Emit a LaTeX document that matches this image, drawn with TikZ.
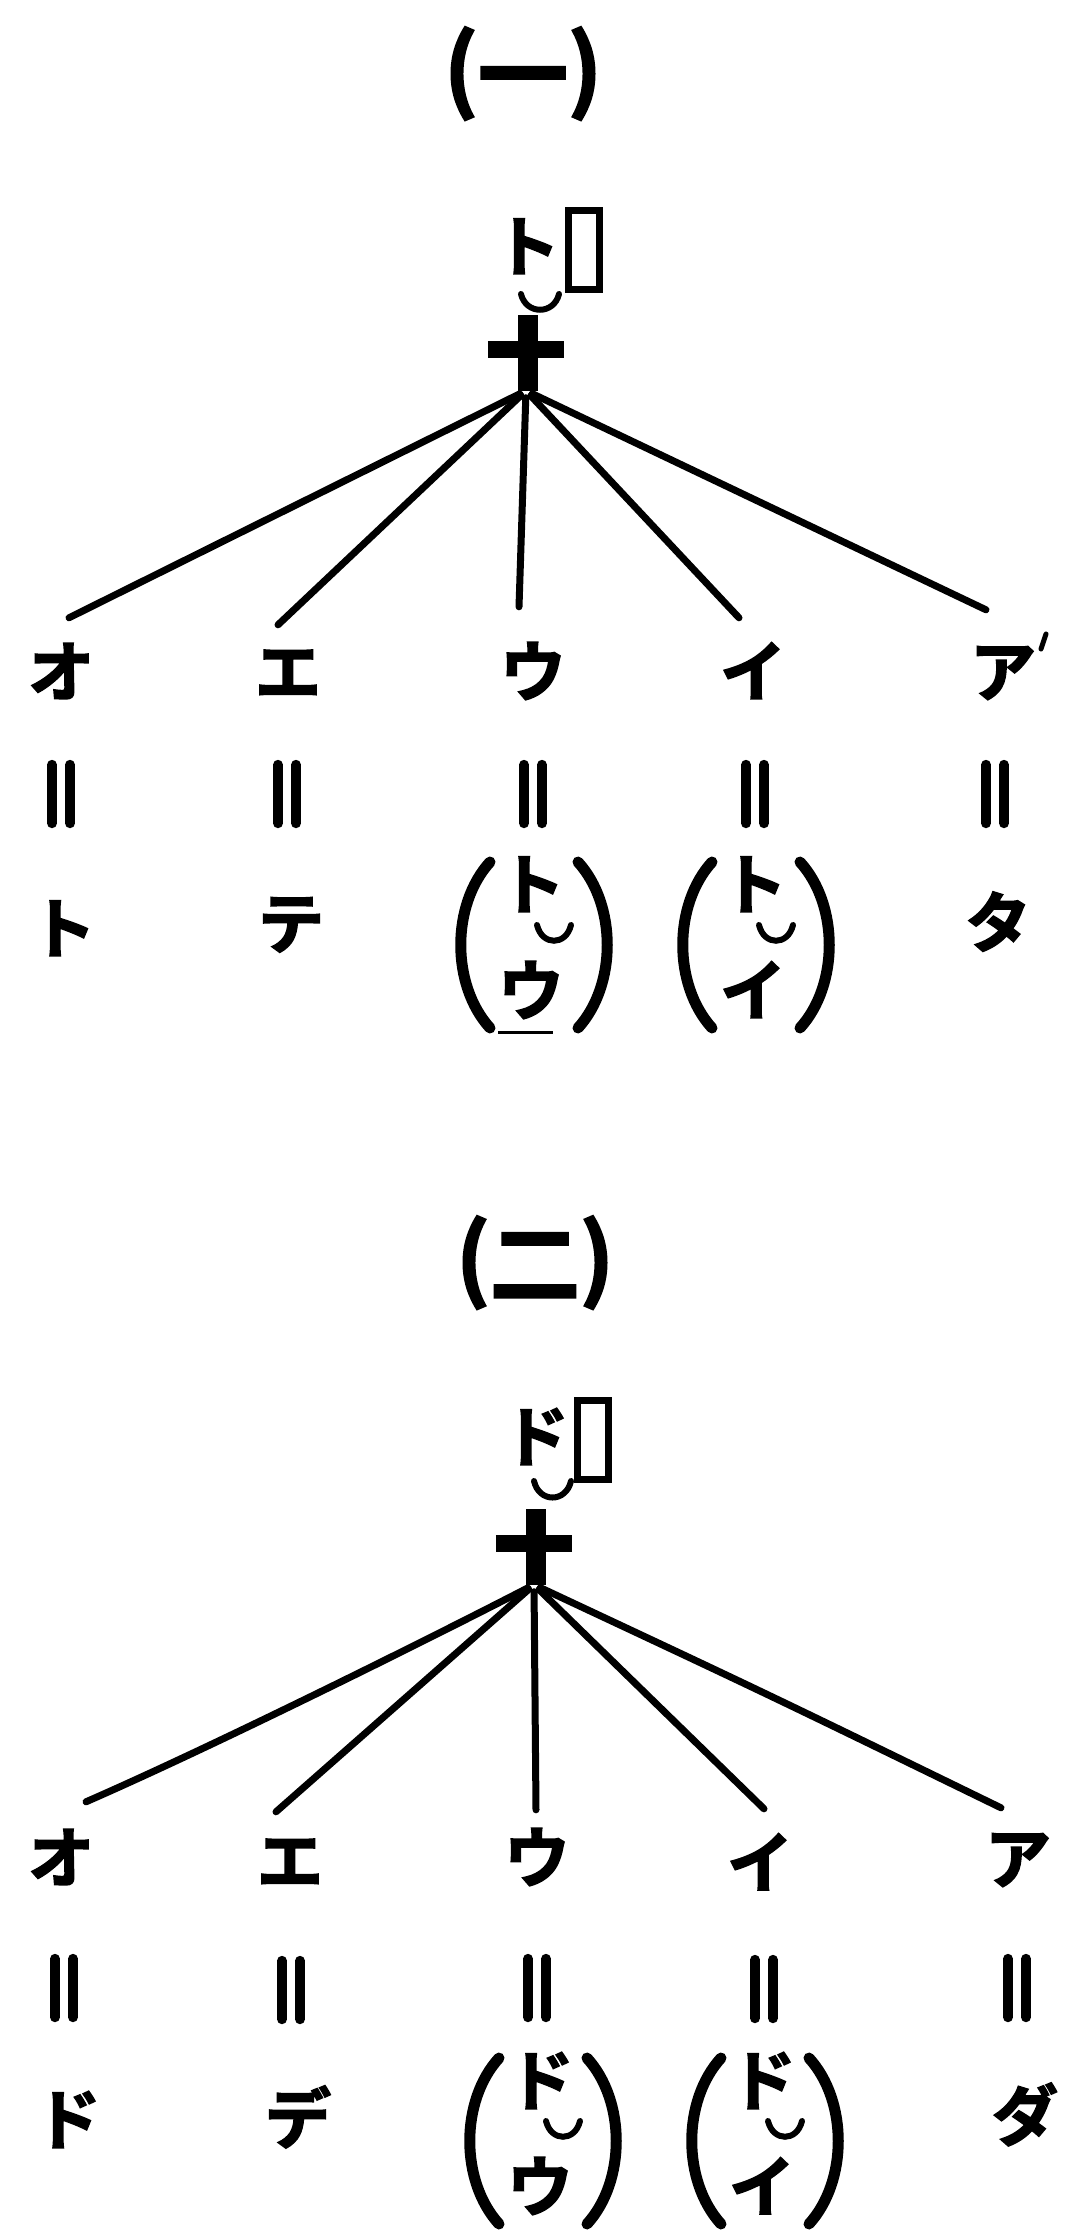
\documentclass[tikz,border=0pt]{standalone}
\usepackage{fontspec}
\newfontfamily\jp[BoldFont={Noto Sans CJK JP Bold}, BoldFeatures={FakeBold=2.5}]{Noto Sans CJK JP}
\tikzset{
  kana/.style={font=\jp\bfseries\fontsize{66pt}{66pt}\selectfont, inner sep=0pt, text height=54pt, text depth=4pt},
  ttl/.style={font=\jp\bfseries\fontsize{90pt}{90pt}\selectfont, inner sep=0pt, text height=67pt, text depth=15pt},
  conn/.style={line width=7pt, line cap=round, shorten <=7pt},
  tie/.style={line width=6pt, line cap=round},
  paren/.style={line width=11pt, line cap=round},
  boxy/.style={draw, line width=7pt, minimum width=31pt, minimum height=79pt, inner sep=0pt},
  crossn/.style={minimum width=76pt, minimum height=75pt, inner sep=0pt},
  eqn/.style={minimum width=28pt, minimum height=68pt, inner sep=0pt},
  bar/.style={line width=10pt, line cap=round},
  grp/.style={inner sep=0pt, minimum width=158pt, minimum height=172pt}
}
\newcommand\crossmark[3]{%
  \node[crossn] (#1) at (#2,#3) {};
  \draw[line width=20pt] ([xshift=2pt]#1.north) -- ([xshift=2pt]#1.south);
  \draw[line width=17pt] ([yshift=4pt]#1.west) -- ([yshift=4pt]#1.east);}
\newcommand\eqbars[3]{%
  \node[eqn] (#1) at (#2,#3) {};
  \draw[bar] ([xshift=-9pt,yshift=-5pt]#1.north) -- ([xshift=-9pt,yshift=5pt]#1.south);
  \draw[bar] ([xshift=9pt,yshift=-5pt]#1.north) -- ([xshift=9pt,yshift=5pt]#1.south);}
\newcommand\pgroup[5]{%
  \node[grp] (#1) at (#2,#3) {};
  \node[kana] (#1t) at ([xshift=-2pt,yshift=61pt]#1.center) {#4};
  \node[kana] (#1b) at ([xshift=-3pt,yshift=-45pt]#1.center) {#5};
  \draw[tie, shift={(#1.center)}] (3,-20) .. controls (8,1) and (32,1) .. (37,-20);
  \draw[paren, shift={(#1.center)}] (-44,-83) .. controls (-83,-40) and (-83,40) .. (-44,83);
  \draw[paren, shift={(#1.center)}] (44,-83) .. controls (83,-40) and (83,40) .. (44,83);}
\begin{document}
\begin{tikzpicture}[x=1pt,y=-1pt]
\fill[white] (0,0) rectangle (1076,2235);
\useasboundingbox (0,0) rectangle (1076,2235);

% ---------- (一) ----------
\node[ttl] (t1) at (523,76) {(\raisebox{-6pt}{一})};
\node[kana] (r1) at (527,246) {ト};
\node[boxy] (q1) at (584,250) {};
\draw[tie] (521,294) .. controls (526,315) and (554,315) .. (559,294);
\crossmark{c1}{526}{353}

\node[kana] (a1) at (61,671) {オ};
\node[kana] (a2) at (288,671) {エ};
\node[kana] (a3) at (533,671) {ウ};
\node[kana] (a4) at (753,671) {イ};
\node[kana] (a5) at (1003,671) {ア};
\draw[line width=5pt, line cap=round] ([xshift=38pt,yshift=22pt]a5.center) -- ([xshift=43pt,yshift=37pt]a5.center);

\draw[conn] (c1.south) -- ([xshift=8pt,yshift=24pt]a1.north);
\draw[conn] (c1.south) -- ([xshift=-10pt,yshift=17pt]a2.north);
\draw[conn] (c1.south) -- ([xshift=-14pt,yshift=35pt]a3.north);
\draw[conn] (c1.south) -- ([xshift=-14pt,yshift=24pt]a4.north);
\draw[conn] (c1.south) -- ([xshift=-17pt,yshift=32pt]a5.north);

\eqbars{e1}{61}{794}
\eqbars{e2}{287}{794}
\eqbars{e3}{533}{794}
\eqbars{e4}{755}{794}
\eqbars{e5}{995}{794}

\node[kana] (v1) at (63,928) {ト};
\node[kana] (v2) at (291,923) {テ};
\pgroup{g1}{534}{945}{ト}{ウ}
\draw[line width=3pt] ([xshift=-36pt,yshift=-87pt]g1.center) -- ([xshift=19pt,yshift=-87pt]g1.center);
\pgroup{g2}{756}{945}{ト}{イ}
\node[kana] (v5) at (998,922) {タ};

% ---------- (二) ----------
\node[ttl] (t2) at (535,1265) {(\raisebox{-6pt}{二})};
\node[kana] (r2) at (536,1436) {ド};
\node[boxy] (q2) at (593,1440) {};
\draw[tie] (534,1481) .. controls (539,1503) and (566,1503) .. (571,1481);
\crossmark{c2}{534}{1547}

\node[kana] (b1) at (61,1857) {オ};
\node[kana] (b2) at (290,1860) {エ};
\node[kana] (b3) at (537,1857) {ウ};
\node[kana] (b4) at (760,1862) {イ};
\node[kana] (b5) at (1018,1858) {ア};

\draw[conn] (c2.south) .. controls ([xshift=380pt,yshift=195pt]b1.north) and ([xshift=160pt,yshift=85pt]b1.north) .. ([xshift=25pt,yshift=26pt]b1.north);
\draw[conn] (c2.south) -- ([xshift=-14pt,yshift=19pt]b2.north);
\draw[conn] (c2.south) -- ([xshift=-1pt,yshift=18pt]b3.north);
\draw[conn] (c2.south) -- ([xshift=4pt,yshift=24pt]b4.north);
\draw[conn] (c2.south) .. controls ([xshift=-251pt,yshift=135pt]b5.north) .. ([xshift=-17pt,yshift=21pt]b5.north);

\eqbars{f1}{64}{1988}
\eqbars{f2}{291}{1990}
\eqbars{f3}{537}{1988}
\eqbars{f4}{764}{1989}
\eqbars{f5}{1017}{1988}

\node[kana] (w1) at (68,2119) {ド};
\node[kana] (w2) at (298,2118) {デ};
\pgroup{g3}{543}{2141}{ド}{ウ}
\pgroup{g4}{765}{2141}{ド}{イ}
\node[kana] (w5) at (1025,2115) {ダ};
\end{tikzpicture}
\end{document}
